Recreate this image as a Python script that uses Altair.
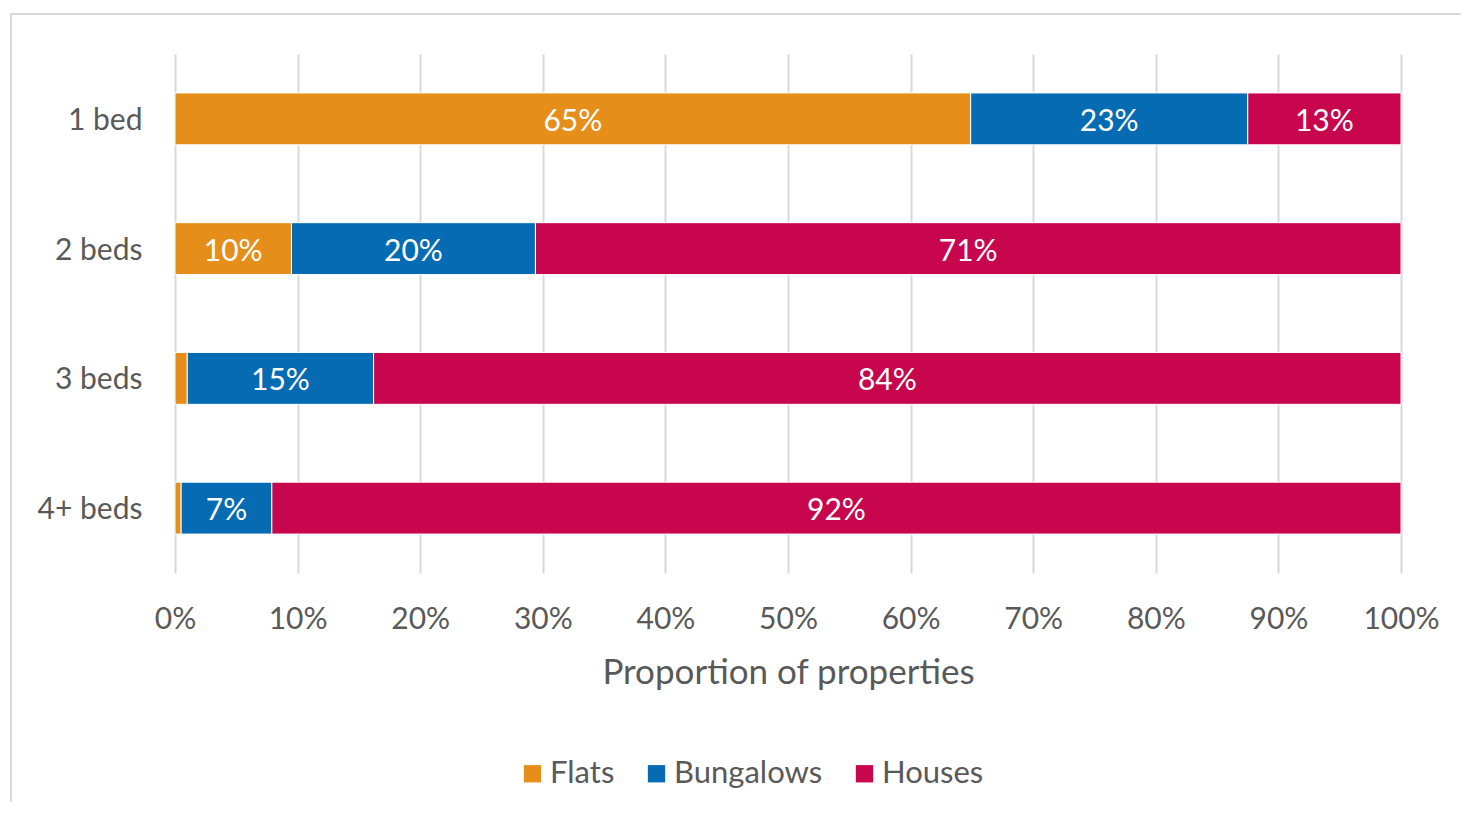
import altair as alt
import pandas as pd

categories = ["1 bed", "2 beds", "3 beds", "4+ beds"]
types = ["Flats", "Bungalows", "Houses"]
flats = [64.9, 9.5, 1.0, 0.5]
bungalows = [22.6, 19.9, 15.2, 7.4]
houses = [12.5, 70.6, 83.8, 92.1]
colors = ["#E58E1A", "#056BB3", "#C7064D"]
x_ticks = [0, 10, 20, 30, 40, 50, 60, 70, 80, 90, 100]

FONT = "Lato"
TXT = "#595959"
GRID = "#d9d9d9"

rows = []
for i, c in enumerate(categories):
    start = 0.0
    for j, (t, vals) in enumerate(zip(types, [flats, bungalows, houses])):
        v = vals[i]
        rows.append(dict(category=c, type=t, order=j, value=v, start=start,
                         end=start + v, mid=start + v / 2,
                         label=(f"{int(v + 0.5)}%" if v >= 5 else "")))
        start += v
df = pd.DataFrame(rows)

x_axis = alt.Axis(values=x_ticks, labelExpr="datum.value + '%'",
                  title="Proportion of properties", grid=True, gridColor=GRID,
                  gridWidth=2, domain=False, ticks=False, tickSize=0,
                  labelFlush=False, labelOverlap=False,
                  labelPadding=31, labelFontSize=30, labelColor=TXT, labelFont=FONT,
                  titleFontSize=35, titleColor=TXT, titleFont=FONT,
                  titleFontWeight="normal", titlePadding=21)
x_scale = alt.Scale(domain=[0, 100], nice=False)
y_enc = alt.Y("category:N", sort=categories,
              scale=alt.Scale(paddingInner=0.6, paddingOuter=0.3),
              axis=alt.Axis(title=None, labelFontSize=30, labelColor=TXT,
                            labelFont=FONT, labelPadding=33, labelOffset=2,
                            ticks=False, tickSize=0, domain=False, grid=False))

base = alt.Chart(df)

bars = base.mark_bar(stroke="white", strokeWidth=1).encode(
    x=alt.X("start:Q", scale=x_scale, axis=x_axis),
    x2="end:Q",
    y=y_enc,
    color=alt.Color("type:N", scale=alt.Scale(domain=types, range=colors),
                    legend=alt.Legend(orient="none", legendX=342, legendY=704,
                                      direction="horizontal", title=None,
                                      symbolType="square", symbolSize=300,
                                      symbolStrokeWidth=0, labelFontSize=31,
                                      labelColor=TXT, labelFont=FONT,
                                      columnPadding=26, labelOffset=2,
                                      padding=0)),
    order=alt.Order("order:Q"),
)

labels = base.mark_text(color="white", fontSize=30, font=FONT, dy=3,
                        baseline="middle", align="center").encode(
    x=alt.X("mid:Q", scale=x_scale, axis=x_axis),
    y=y_enc,
    text="label:N",
)

frame = alt.Chart(pd.DataFrame({"f": [0]})).mark_rect(
    fillOpacity=0, stroke=GRID, strokeWidth=2).encode(
    x=alt.value(-164), x2=alt.value(1400), y=alt.value(-40), y2=alt.value(900))

chart = alt.layer(frame, bars, labels).properties(
    width=1226, height=519,
    autosize=alt.AutoSizeParams(type="none"),
    padding={"left": 167, "top": 46, "right": 60, "bottom": 229},
).configure_view(stroke=None)

chart.save("out.html", embed_options={"renderer": "svg", "actions": False})
